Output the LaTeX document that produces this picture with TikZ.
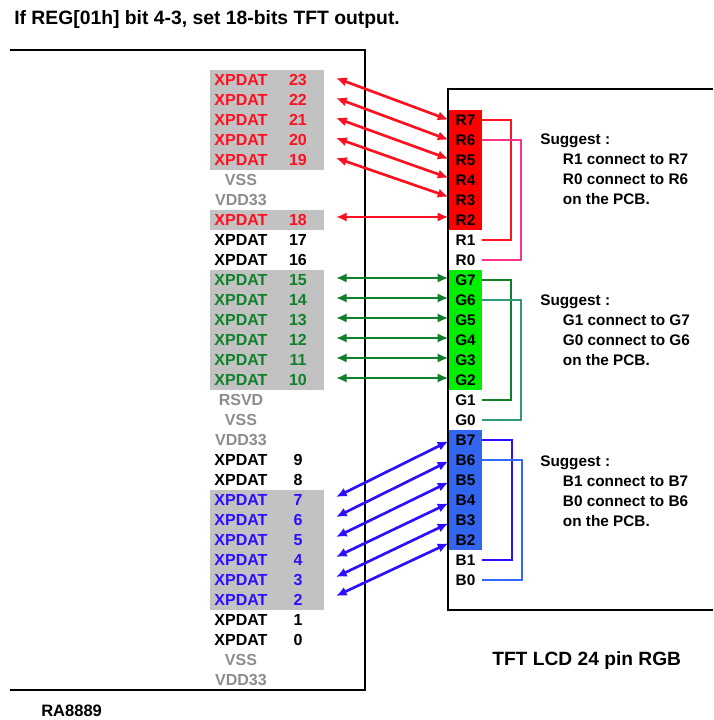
\documentclass[tikz,border=0pt]{standalone}
\usepackage{fontspec}
\setmainfont{Liberation Sans}
\usepackage{xcolor}
\usepackage{tikz}
\usetikzlibrary{arrows.meta, positioning, backgrounds}

\definecolor{bandgray}{HTML}{C2C2C2}
\definecolor{pingray}{HTML}{8C8C8C}
\definecolor{pinred}{HTML}{FF1020}
\definecolor{pingreen}{HTML}{10802A}
\definecolor{pinblue}{HTML}{2A10FF}
\definecolor{blockgreen}{HTML}{00EE00}
\definecolor{blockblue}{HTML}{3366EE}
\definecolor{jumppink}{HTML}{FF3388}
\definecolor{jumpteal}{HTML}{339977}
\definecolor{jumpblue}{HTML}{3366FF}

\newcommand{\pinlabel}[2]{\makebox[46.5pt]{#1}\makebox[39pt]{#2}}

\begin{document}
\begin{tikzpicture}[
    x=0.75pt,
    y=-0.75pt,
    node distance=0pt,
    heading/.style={
        inner sep=0pt,
        font=\bfseries\fontsize{14.5}{17}\selectfont
    },
    pinrow/.style={
        minimum width=85.5pt,
        minimum height=15pt,
        inner sep=0pt,
        outer sep=0pt,
        font=\bfseries\fontsize{12}{13}\selectfont
    },
    lcdrow/.style={
        minimum width=24.75pt,
        minimum height=15pt,
        inner sep=0pt,
        outer sep=0pt,
        font=\bfseries\fontsize{11.5}{13}\selectfont
    },
    note/.style={
        align=left,
        anchor=north west,
        inner sep=0pt,
        font=\bfseries\fontsize{11.5}{15}\selectfont
    },
    link/.style={{Latex[length=8pt,width=7pt]}-{Latex[length=8pt,width=7pt]}, line width=2pt, shorten >=0.5pt},
    jump/.style={line width=1.3pt}
]
\useasboundingbox (0,0) rectangle (713,720);

% Frames
\draw[line width=1.5pt] (10,50) -- (365,50) -- (365,690) -- (10,690);
\draw[line width=1.5pt] (713,89) -- (448,89) -- (448,610) -- (713,610);

\node[heading, anchor=west] (title) at (14,20) {If REG[01h] bit 4-3, set 18-bits TFT output.};
\node[heading, anchor=west, font=\bfseries\fontsize{12.4}{15}\selectfont] (chipname) at (41,711) {RA8889};
\node[heading, anchor=west, font=\bfseries\fontsize{14.4}{17}\selectfont] (lcdname) at (492,661) {TFT LCD 24 pin RGB};

% RA8889 pins
\node[pinrow, pinred] (xp23) at (267,80) {\pinlabel{XPDAT}{23}};
\node[pinrow, pinred, below=of xp23] (xp22) {\pinlabel{XPDAT}{22}};
\node[pinrow, pinred, below=of xp22] (xp21) {\pinlabel{XPDAT}{21}};
\node[pinrow, pinred, below=of xp21] (xp20) {\pinlabel{XPDAT}{20}};
\node[pinrow, pinred, below=of xp20] (xp19) {\pinlabel{XPDAT}{19}};
\node[pinrow, pingray, below=of xp19] (vss1) {\pinlabel{VSS}{}};
\node[pinrow, pingray, below=of vss1] (vdd1) {\pinlabel{VDD33}{}};
\node[pinrow, pinred, below=of vdd1] (xp18) {\pinlabel{XPDAT}{18}};
\node[pinrow, below=of xp18] (xp17) {\pinlabel{XPDAT}{17}};
\node[pinrow, below=of xp17] (xp16) {\pinlabel{XPDAT}{16}};
\node[pinrow, pingreen, below=of xp16] (xp15) {\pinlabel{XPDAT}{15}};
\node[pinrow, pingreen, below=of xp15] (xp14) {\pinlabel{XPDAT}{14}};
\node[pinrow, pingreen, below=of xp14] (xp13) {\pinlabel{XPDAT}{13}};
\node[pinrow, pingreen, below=of xp13] (xp12) {\pinlabel{XPDAT}{12}};
\node[pinrow, pingreen, below=of xp12] (xp11) {\pinlabel{XPDAT}{11}};
\node[pinrow, pingreen, below=of xp11] (xp10) {\pinlabel{XPDAT}{10}};
\node[pinrow, pingray, below=of xp10] (rsvd) {\pinlabel{RSVD}{}};
\node[pinrow, pingray, below=of rsvd] (vss2) {\pinlabel{VSS}{}};
\node[pinrow, pingray, below=of vss2] (vdd2) {\pinlabel{VDD33}{}};
\node[pinrow, below=of vdd2] (xp9) {\pinlabel{XPDAT}{9}};
\node[pinrow, below=of xp9] (xp8) {\pinlabel{XPDAT}{8}};
\node[pinrow, pinblue, below=of xp8] (xp7) {\pinlabel{XPDAT}{7}};
\node[pinrow, pinblue, below=of xp7] (xp6) {\pinlabel{XPDAT}{6}};
\node[pinrow, pinblue, below=of xp6] (xp5) {\pinlabel{XPDAT}{5}};
\node[pinrow, pinblue, below=of xp5] (xp4) {\pinlabel{XPDAT}{4}};
\node[pinrow, pinblue, below=of xp4] (xp3) {\pinlabel{XPDAT}{3}};
\node[pinrow, pinblue, below=of xp3] (xp2) {\pinlabel{XPDAT}{2}};
\node[pinrow, below=of xp2] (xp1) {\pinlabel{XPDAT}{1}};
\node[pinrow, below=of xp1] (xp0) {\pinlabel{XPDAT}{0}};
\node[pinrow, pingray, below=of xp0] (vss3) {\pinlabel{VSS}{}};
\node[pinrow, pingray, below=of vss3] (vdd3) {\pinlabel{VDD33}{}};

% LCD pins
\node[lcdrow] (r7) at (465.5,120) {R7};
\node[lcdrow, below=of r7] (r6) {R6};
\node[lcdrow, below=of r6] (r5) {R5};
\node[lcdrow, below=of r5] (r4) {R4};
\node[lcdrow, below=of r4] (r3) {R3};
\node[lcdrow, below=of r3] (r2) {R2};
\node[lcdrow, below=of r2] (r1) {R1};
\node[lcdrow, below=of r1] (r0) {R0};
\node[lcdrow, below=of r0] (g7) {G7};
\node[lcdrow, below=of g7] (g6) {G6};
\node[lcdrow, below=of g6] (g5) {G5};
\node[lcdrow, below=of g5] (g4) {G4};
\node[lcdrow, below=of g4] (g3) {G3};
\node[lcdrow, below=of g3] (g2) {G2};
\node[lcdrow, below=of g2] (g1) {G1};
\node[lcdrow, below=of g1] (g0) {G0};
\node[lcdrow, below=of g0] (b7) {B7};
\node[lcdrow, below=of b7] (b6) {B6};
\node[lcdrow, below=of b6] (b5) {B5};
\node[lcdrow, below=of b5] (b4) {B4};
\node[lcdrow, below=of b4] (b3) {B3};
\node[lcdrow, below=of b3] (b2) {B2};
\node[lcdrow, below=of b2] (b1) {B1};
\node[lcdrow, below=of b1] (b0) {B0};

% Bands behind the pins
\begin{scope}[on background layer]
\fill[bandgray] (xp23.north west) rectangle (xp19.south east);
\fill[bandgray] (xp18.north west) rectangle (xp18.south east);
\fill[bandgray] (xp15.north west) rectangle (xp10.south east);
\fill[bandgray] (xp7.north west) rectangle (xp2.south east);
\fill[red] (r7.north west) rectangle (r2.south east);
\fill[blockgreen] (g7.north west) rectangle (g2.south east);
\fill[blockblue] (b7.north west) rectangle (b2.south east);
\end{scope}

% Free ends of the links
\coordinate (a23) at (336,78);
\coordinate (a22) at (336,98);
\coordinate (a21) at (336,118);
\coordinate (a20) at (336,138);
\coordinate (a19) at (336,158);
\coordinate (a18) at (336,217);
\coordinate (a15) at (336,278);
\coordinate (a14) at (336,298);
\coordinate (a13) at (336,318);
\coordinate (a12) at (336,338);
\coordinate (a11) at (336,358);
\coordinate (a10) at (336,378);
\coordinate (a7) at (336,497);
\coordinate (a6) at (336,517);
\coordinate (a5) at (336,537);
\coordinate (a4) at (336,557);
\coordinate (a3) at (336,577);
\coordinate (a2) at (336,596);

% Red links
\draw[link, pinred] (a23) -- (r7.west);
\draw[link, pinred] (a22) -- (r6.west);
\draw[link, pinred] (a21) -- ([yshift=0.75pt]r5.west);
\draw[link, pinred] (a20) -- ([yshift=1.5pt]r4.west);
\draw[link, pinred] (a19) -- ([yshift=2.25pt]r3.west);
\draw[link, pinred] (a18) -- ([yshift=2.25pt]r2.west);

% Green links
\draw[link, pingreen] (a15) -- ([yshift=1.5pt]g7.west);
\draw[link, pingreen] (a14) -- ([yshift=1.5pt]g6.west);
\draw[link, pingreen] (a13) -- ([yshift=1.5pt]g5.west);
\draw[link, pingreen] (a12) -- ([yshift=1.5pt]g4.west);
\draw[link, pingreen] (a11) -- ([yshift=1.5pt]g3.west);
\draw[link, pingreen] (a10) -- ([yshift=1.5pt]g2.west);

% Blue links
\draw[link, pinblue] (a7) -- ([yshift=-0.75pt]b7.west);
\draw[link, pinblue] (a6) -- ([yshift=-0.75pt]b6.west);
\draw[link, pinblue] (a5) -- ([yshift=-1.5pt]b5.west);
\draw[link, pinblue] (a4) -- ([yshift=-2.25pt]b4.west);
\draw[link, pinblue] (a3) -- ([yshift=-2.25pt]b3.west);
\draw[link, pinblue] (a2) -- ([yshift=-2.25pt]b2.west);

% Jumpers on the PCB
\draw[jump, pinred] (r7.east) -- ++(29,0) |- (r1.east);
\draw[jump, jumppink] (r6.east) -- ++(39,0) |- (r0.east);
\draw[jump, pingreen] (g7.east) -- ++(29,0) |- (g1.east);
\draw[jump, jumpteal] (g6.east) -- ++(39,0) |- (g0.east);
\draw[jump, pinblue] (b7.east) -- ++(30,0) |- (b1.east);
\draw[jump, jumpblue] (b6.east) -- ++(40,0) |- (b0.east);

% Suggestions
\node[note] (noter) at (540,134) {Suggest :\\\hspace*{17pt}R1 connect to R7\\\hspace*{17pt}R0 connect to R6\\\hspace*{17pt}on the PCB.};
\node[note] (noteg) at (540,295) {Suggest :\\\hspace*{17pt}G1 connect to G7\\\hspace*{17pt}G0 connect to G6\\\hspace*{17pt}on the PCB.};
\node[note] (noteb) at (540,456) {Suggest :\\\hspace*{17pt}B1 connect to B7\\\hspace*{17pt}B0 connect to B6\\\hspace*{17pt}on the PCB.};

\end{tikzpicture}
\end{document}
